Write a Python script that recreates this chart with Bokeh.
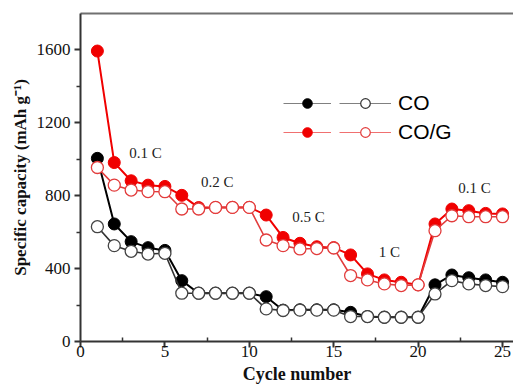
from bokeh.plotting import figure
from bokeh.models import (Range1d, FixedTicker, LinearAxis, Legend, LegendItem,
                          ColumnDataSource)
from bokeh.core.properties import value
from bokeh.embed import file_html
from bokeh.resources import INLINE

# ---------------- data ----------------
cycles = list(range(1, 26))
co_filled = [1005, 645, 548, 515, 500, 334, 265, 265, 265, 265, 246, 172, 174, 174, 174,
             160, 137, 133, 133, 133, 311, 365, 350, 338, 325]
co_hollow = [630, 526, 495, 480, 484, 265, 265, 265, 265, 265, 179, 170, 172, 172, 172,
             137, 137, 133, 133, 133, 261, 334, 316, 307, 301]
cog_filled = [1594, 982, 882, 858, 851, 802, 735, 735, 736, 736, 694, 571, 539, 520, 515,
              475, 371, 338, 325, 311, 645, 727, 718, 703, 700]
cog_hollow = [955, 858, 831, 823, 822, 727, 727, 736, 736, 736, 557, 526, 508, 510, 513,
              362, 338, 316, 307, 311, 608, 690, 685, 685, 685]

x_ticks = [0, 5, 10, 15, 20, 25]
y_ticks = [0, 400, 800, 1200, 1600]

rate_labels = ["0.1 C", "0.2 C", "0.5 C", "1 C", "0.1 C"]
rate_x = [3.85, 8.1, 13.5, 18.3, 23.34]
rate_y = [1036, 873, 685, 490, 843]

series_names = ["CO", "CO/G"]

# ---------------- figure ----------------
SERIF = "Liberation Serif"
RED = "#f00000"
RED_LIGHT = "#e23c3c"

p = figure(width=513, height=390, output_backend="svg", toolbar_location=None,
           x_range=Range1d(0, 25.65), y_range=Range1d(0, 1800),
           min_border_left=80, min_border_right=0, min_border_top=13, min_border_bottom=49,
           background_fill_color="white", border_fill_color="white")
p.outline_line_color = None
p.xgrid.visible = False
p.ygrid.visible = False

for ax in (p.xaxis[0], p.yaxis[0]):
    ax.axis_line_color = "#333333"
    ax.axis_line_width = 2
    ax.major_tick_line_color = "#333333"
    ax.major_tick_line_width = 2
    ax.minor_tick_line_color = "#333333"
    ax.minor_tick_line_width = 1.5
    ax.major_label_text_font = SERIF
    ax.major_label_text_font_size = "17px"
    ax.major_label_text_color = "#111111"
    ax.axis_label_text_font = SERIF
    ax.axis_label_text_font_style = "bold"
    ax.axis_label_text_font_size = "17px"
    ax.axis_label_text_color = "#111111"

p.xaxis.ticker = FixedTicker(ticks=x_ticks, minor_ticks=[2.5, 7.5, 12.5, 17.5, 22.5])
p.yaxis.ticker = FixedTicker(ticks=y_ticks, minor_ticks=[200, 600, 1000, 1400])
p.xaxis.major_tick_out = 6
p.xaxis.major_tick_in = 0
p.xaxis.minor_tick_in = 4
p.xaxis.minor_tick_out = 0
p.yaxis.major_tick_out = 6
p.yaxis.major_tick_in = 0
p.yaxis.minor_tick_out = 4
p.yaxis.minor_tick_in = 0
p.xaxis.major_label_standoff = -2
p.yaxis.major_label_standoff = 4
p.xaxis.axis_label = "Cycle number"
p.xaxis.axis_label_text_font_size = "18px"
p.yaxis.axis_label = "Specific capacity (mAh g\u207b\u00b9)"
p.xaxis.axis_label_standoff = 4
p.yaxis.axis_label_standoff = 4

top = LinearAxis(ticker=FixedTicker(ticks=[]), axis_line_color="#707070", axis_line_width=2,
                 major_tick_line_color=None, minor_tick_line_color=None)
p.add_layout(top, "above")

# ---------------- data series ----------------
src = ColumnDataSource(dict(x=cycles, cof=co_filled, coh=co_hollow, gf=cog_filled, gh=cog_hollow))

p.line("x", "cof", source=src, line_color="black", line_width=2)
p.scatter("x", "cof", source=src, size=12, fill_color="black", line_color="black")
p.line("x", "coh", source=src, line_color="#333333", line_width=1.6)
p.scatter("x", "coh", source=src, size=12, fill_color="white", line_color="#444444", line_width=1.3)

p.line("x", "gf", source=src, line_color=RED, line_width=2)
p.scatter("x", "gf", source=src, size=12, fill_color=RED, line_color=RED)
p.line("x", "gh", source=src, line_color=RED_LIGHT, line_width=1.6)
p.scatter("x", "gh", source=src, size=12, fill_color="white", line_color=RED_LIGHT, line_width=1.3)

# rate annotations
tsrc = ColumnDataSource(dict(x=rate_x, y=rate_y, t=rate_labels))
p.text("x", "y", text="t", source=tsrc, text_font=value(SERIF), text_font_size="15px",
       text_align="center", text_baseline="middle", text_color="#222222")

# ---------------- legend (proxy renderers, nothing drawn in the plot) ----------------
nan = float("nan")
empty = ColumnDataSource(dict(x=[nan], y=[nan]))
lg_lines = [p.line("x", "y", source=empty, line_color="#808080", line_width=1),
            p.line("x", "y", source=empty, line_color="#f07070", line_width=1)]
lg_filled = [p.scatter("x", "y", source=empty, fill_color="black", line_color="black"),
             p.scatter("x", "y", source=empty, fill_color=RED, line_color=RED)]
lg_hollow = [p.scatter("x", "y", source=empty, fill_color="white", line_color="#333333", line_width=1.2),
             p.scatter("x", "y", source=empty, fill_color="white", line_color=RED_LIGHT, line_width=1.2)]

leg_a = Legend(items=[LegendItem(label=value(" "), renderers=[lg_lines[i], lg_filled[i]], index=0) for i in range(2)],
               location=(203, 197), orientation="vertical", padding=0, margin=0,
               glyph_width=48, glyph_height=24, spacing=5, label_width=0, label_standoff=0,
               label_text_font_size="1px", border_line_color=None, background_fill_alpha=0)
leg_b = Legend(items=[LegendItem(label=value(series_names[i]), renderers=[lg_lines[i], lg_hollow[i]], index=0) for i in range(2)],
               location=(259, 197), orientation="vertical", padding=0, margin=0,
               glyph_width=52, glyph_height=24, spacing=5, label_standoff=7,
               label_text_font="Liberation Sans", label_text_font_size="21px",
               label_text_color="black", label_text_baseline="middle",
               border_line_color=None, background_fill_alpha=0)
p.add_layout(leg_a, "center")
p.add_layout(leg_b, "center")

open("out.html", "w").write(file_html(p, INLINE))
